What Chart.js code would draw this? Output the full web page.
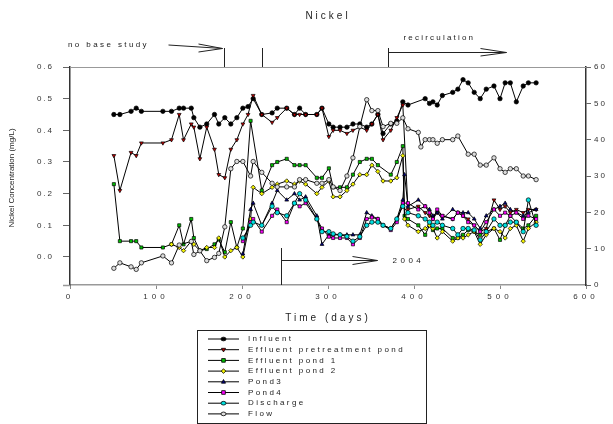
<!DOCTYPE html>
<html>
<head>
<meta charset="utf-8">
<script src="https://cdn.jsdelivr.net/npm/chart.js@4/dist/chart.umd.min.js"></script>
<style>
html, body { margin: 0; padding: 0; background: #fff; }
</style>
</head>
<body>
<canvas id="chart" width="613" height="424"></canvas>
<script>
Chart.defaults.font.family = '"Liberation Sans", Arial, sans-serif'
Chart.defaults.font.size = 8
Chart.defaults.color = '#333'

// sampling days (x values)
const days = [51, 58, 71, 77, 83, 108, 118, 127, 132, 141, 144, 151, 159, 168, 173, 180, 187, 194, 201, 207,
	210, 213, 223, 235, 241, 252, 261, 267, 274, 287, 293, 301, 306, 314, 322, 329, 337, 345, 351, 358,
	364, 373, 380, 387, 389, 393, 405, 408, 413, 418, 422, 427, 433, 445, 451, 457, 463, 470, 477, 484,
	493, 500, 506, 512, 519, 527, 533, 542]

// Ni concentrations (mg/L), null = not sampled
const influent = [.45, .45, .46, .47, .46, .46, .46, .47, .47, .47, .44, .41, .42, .45, .42, .44, .42, .44, .47, .475,
	null, .50, .45, .455, .47, .47, .45, .47, .45, .45, .47, .42, .41, .41, .41, .42, .42, .41, .42, .45,
	.39, .42, .43, .49, null, .48, null, null, .50, .485, .49, .48, .51, .52, .53, .56, .55, .52, .50, .53,
	.54, .50, .55, .55, .49, .54, .55, .55]
const effPretreat = [.32, .21, .33, .32, .36, .36, .37, .45, .37, .42, .41, .31, .41, .34, .26, .25, .34, .37, .42, .45,
	null, .51, .45, .425, .44, .47, .45, .45, .45, .45, .47, .38, .40, .40, .39, .40, .41, .40, .42, .45,
	.37, .40, .44, .48, null, .15, .16, null, .14, .13, .12, .14, .13, .12, .14, .13, .12, .10, .08, .09,
	.18, .15, .16, .14, .15, .14, .15, .15]
const effPond1 = [.23, .05, .05, .05, .03, .03, .04, .10, .04, .12, .06, .02, .025, .04, .055, .015, .11, .03, .09, null,
	.43, null, .21, .29, .30, .31, .29, .29, .29, .25, .25, .28, .22, .22, .22, .26, .30, .31, .31, .29,
	null, .26, .30, .35, .13, .12, .10, null, .07, .10, .085, .09, .09, .06, .06, .07, .085, .08, .07, .08,
	.09, .054, .10, .13, .11, .09, .10, .13]
const effPond2 = [null, null, null, null, null, null, .04, .03, .02, .05, .04, .02, .03, .03, .06, .0, .02, .03, .0, null,
	.12, .22, .20, .22, .23, .24, .23, .24, .23, .20, .22, .24, .19, .19, .21, .23, .26, .26, .29, .27,
	.24, .24, .25, .32, .12, .10, .08, null, .09, .10, .09, .06, .08, .05, .06, .06, .07, .08, .04, .07,
	.09, .08, .06, .09, .10, .05, .09, .11]
const pond3 = [null, null, null, null, null, null, null, null, null, null, null, null, null, null, null, null, null, null, .01, null,
	.15, .17, .10, .17, .21, .18, .20, .18, .19, .13, .04, .07, .07, .07, .07, .07, .07, .14, .13, .12,
	.10, .09, .12, .18, .26, .16, .18, null, .16, .15, .13, .14, .12, .15, .14, .14, .14, .12, .09, .13,
	.15, .16, .17, .15, .14, .13, .14, .15]
const pond4 = [null, null, null, null, null, null, null, null, null, null, null, null, null, null, null, null, null, null, .05, null,
	.11, .12, .08, .13, .15, .11, .17, .16, .17, .12, .09, .064, .06, .06, .06, .04, .06, .12, .125, .12,
	.10, .085, .11, .17, null, .17, .15, null, .16, .14, .12, .15, .13, .12, .14, .13, .11, .10, .08, .11,
	.15, .13, .14, .13, .14, .12, .13, .12]
const discharge = [null, null, null, null, null, null, null, null, null, null, null, null, null, null, null, null, null, null, .06, null,
	.10, .11, .10, .16, .14, .13, .17, .20, .18, .12, .08, .08, .073, .07, .065, .05, .064, .10, .11, .11,
	.10, .09, .12, .16, null, .14, .13, null, .12, .11, .10, .11, .10, .09, .07, .09, .09, .085, .054, .08,
	.12, .10, .10, .11, .11, .08, .18, .10]
// flow, right axis
const flow = [4.6, 6.1, 5, 4.3, 6.1, 8, 6.1, 11, null, 12, 8.4, 9.4, 6.7, 7.6, 8.7, 16, 32, 34, 34, null,
	30, 34, 31, 28, 27, 27, 27, 29, 29, 28, 28, 29, 27, 26, 30, 35, 43.6, 51, 48, 48,
	43.6, 44.5, 44.5, 46, null, 43, 42, 38, 40, 40, 40, 39, 40, 40, 41, null, 36, 36, 33, 33,
	35, 32, 31, 32, 32, 30, 30, 29]

const xTicks = [0, 100, 200, 300, 400, 500, 600]
const yTicks = [0, .1, .2, .3, .4, .5, .6]
const flowTicks = [0, 10, 20, 30, 40, 50, 60]

const series = [
	{label: "Influent", values: influent, style: 'circle', color: '#000000', axis: 'y'},
	{label: "Effluent pretreatment pond", values: effPretreat, style: 'triangle', rot: 180, color: '#c00000', axis: 'y'},
	{label: "Effluent pond 1", values: effPond1, style: 'rect', color: '#00c000', axis: 'y'},
	{label: "Effluent pond 2", values: effPond2, style: 'rectRot', color: '#f0f000', axis: 'y'},
	{label: "Pond3", values: pond3, style: 'triangle', color: '#000080', axis: 'y'},
	{label: "Pond4", values: pond4, style: 'rect', color: '#ff00ff', axis: 'y'},
	{label: "Discharge", values: discharge, style: 'circle', color: '#00e0e0', axis: 'y'},
	{label: "Flow", values: flow, style: 'circle', color: '#dcdcdc', axis: 'y1'},
]

const pts = vals => days.map((d, i) => ({x: d, y: vals[i]})).filter(p => p.y !== null)

function marker(ctx, style, rot, color, x, y, r) {
	ctx.save()
	ctx.fillStyle = color
	ctx.strokeStyle = '#000'
	ctx.lineWidth = 0.8
	ctx.translate(x, y)
	ctx.rotate((rot || 0) * Math.PI / 180)
	ctx.beginPath()
	if (style == 'circle') { ctx.ellipse(0, 0, r * 1.1, r * 0.8, 0, 0, 2 * Math.PI) }
	else if (style == 'rect') { ctx.rect(-r * .8, -r * .8, r * 1.6, r * 1.6) }
	else if (style == 'rectRot') { ctx.moveTo(0, -r); ctx.lineTo(r, 0); ctx.lineTo(0, r); ctx.lineTo(-r, 0); ctx.closePath() }
	else { ctx.moveTo(0, -r); ctx.lineTo(r * .9, r * .6); ctx.lineTo(-r * .9, r * .6); ctx.closePath() }
	ctx.fill()
	ctx.stroke()
	ctx.restore()
}

function text(ctx, s, x, y, font, spacing, align) {
	ctx.save()
	ctx.font = font
	ctx.letterSpacing = spacing + 'px'
	ctx.fillStyle = '#222'
	ctx.textAlign = align || 'left'
	ctx.textBaseline = 'middle'
	ctx.fillText(s, x, y)
	ctx.restore()
}

function line(ctx, x1, y1, x2, y2) {
	ctx.beginPath()
	ctx.moveTo(x1, y1)
	ctx.lineTo(x2, y2)
	ctx.stroke()
}

const decor = {
	id: 'decor',
	afterUpdate(chart) {
		const sx = chart.scales.x
		if (!sx._spaced) {
			const orig = sx.drawLabels
			sx.drawLabels = function(area) {
				this.ctx.save(); this.ctx.letterSpacing = '4px'; orig.call(this, area); this.ctx.restore()
			}
			sx._spaced = true
		}
	},
	beforeDraw(chart) { chart.ctx.letterSpacing = '2px' },
	afterDraw(chart) {
		const ctx = chart.ctx
		const ca = chart.chartArea
		const sx = chart.scales.x
		const F = '"Liberation Sans", Arial, sans-serif'
		ctx.save()
		ctx.letterSpacing = '0px'
		// frame: top line and the short run of the x axis left of the y axis
		ctx.strokeStyle = '#999'
		ctx.lineWidth = 1
		line(ctx, ca.left, ca.top + .5, ca.right, ca.top + .5)
		ctx.lineWidth = 1.5
		line(ctx, ca.left - 7, ca.bottom + .5, ca.left, ca.bottom + .5)
		ctx.lineWidth = 1

		text(ctx, "Nickel", (ca.left + ca.right) / 2, 16, '10px ' + F, 3, 'center')

		// study period markers above the plot
		ctx.strokeStyle = '#222'
		const xa = Math.round(sx.getPixelForValue(179)) + .5
		const xb = Math.round(sx.getPixelForValue(223)) + .5
		const xc = Math.round(sx.getPixelForValue(370)) + .5
		line(ctx, xa, ca.top - 19, xa, ca.top)
		line(ctx, xb, ca.top - 19, xb, ca.top)
		line(ctx, xc, ca.top - 19, xc, ca.top)
		text(ctx, "no base study", 68, 45, '8px ' + F, 2.4)
		line(ctx, xa - 56, 45, xa - 2, 48.5)
		line(ctx, xa - 26, 44, xa - 2, 48.5)
		line(ctx, xa - 26, 52, xa - 2, 48.5)
		text(ctx, "recirculation", xc + 15, 38, '8px ' + F, 2.2)
		line(ctx, xc, 52.5, xc + 118, 52.5)
		line(ctx, xc + 92, 48.5, xc + 118, 52.5)
		line(ctx, xc + 92, 56, xc + 118, 52.5)

		// 2004 marker inside the plot
		const xd = Math.round(sx.getPixelForValue(245)) + .5
		line(ctx, xd, 248, xd, ca.bottom)
		line(ctx, xd, 260.5, xd + 96, 260.5)
		line(ctx, xd + 71, 256.5, xd + 96, 260.5)
		line(ctx, xd + 71, 264.5, xd + 96, 260.5)
		text(ctx, "2004", xd + 111, 260.5, '8px ' + F, 3.5)

		// axis titles
		ctx.save()
		ctx.translate(12, (ca.top + ca.bottom) / 2 + 2)
		ctx.rotate(-Math.PI / 2)
		text(ctx, "Nickel Concentration (mg/L)", 0, 0, '8px ' + F, 0, 'center')
		ctx.restore()
		text(ctx, "Time (days)", (ca.left + ca.right) / 2, 318, '10px ' + F, 3, 'center')

		// legend
		ctx.strokeStyle = '#222'
		ctx.strokeRect(197.5, 330.5, 229, 93)
		series.forEach((s, i) => {
			const y = 339 + i * 10.7
			ctx.strokeStyle = '#000'
			line(ctx, 208, y, 239, y)
			marker(ctx, s.style, s.rot, s.color, 223.5, y, 2.3)
			text(ctx, s.label, 248, y, '8px ' + F, 2.4)
		})
		ctx.restore()
	}
}

const ctx = document.getElementById("chart")
let chart = new Chart(ctx, {
	type: 'line',
	data: {
		datasets: series.map(s => ({
			label: s.label,
			data: pts(s.values),
			yAxisID: s.axis,
			borderColor: '#000',
			borderWidth: 1,
			backgroundColor: s.color,
			pointBackgroundColor: s.color,
			pointBorderColor: '#000',
			pointBorderWidth: 0.7,
			pointStyle: s.style,
			pointRotation: s.rot || 0,
			pointRadius: 2.2,
			tension: 0,
			fill: false,
			spanGaps: true,
		})).reverse()
	},
	options: {
		responsive: false,
		animation: false,
		devicePixelRatio: 1,
		layout: { padding: { left: 22, right: 0, top: 67, bottom: 119 } },
		plugins: {
			legend: { display: false },
			title: { display: false },
			tooltip: { enabled: false },
		},
		scales: {
			x: {
				type: 'linear', position: 'bottom', min: 0, max: 600,
				afterBuildTicks: a => { a.ticks = xTicks.map(v => ({value: v})) },
				afterFit: a => { a.height = 20 },
				ticks: { color: '#333', padding: 3, maxRotation: 0, font: { size: 8 } },
				grid: { drawOnChartArea: false, drawTicks: true, tickLength: 4, color: '#888' },
				border: { color: '#999', width: 1.5 },
			},
			y: {
				type: 'linear', position: 'left', min: -0.0885, max: 0.6,
				afterBuildTicks: a => { a.ticks = yTicks.map(v => ({value: v})) },
				afterFit: a => { a.width = 48 },
				ticks: { color: '#333', padding: 9, callback: v => v.toFixed(1), font: { size: 8 } },
				grid: { drawOnChartArea: false, drawTicks: true, tickLength: 7, color: '#666' },
				border: { color: '#333', width: 1.5 },
			},
			y1: {
				type: 'linear', position: 'right', min: 0, max: 60,
				afterBuildTicks: a => { a.ticks = flowTicks.map(v => ({value: v})) },
				afterFit: a => { a.width = 27 },
				ticks: { color: '#333', padding: 3, font: { size: 8 } },
				grid: { drawOnChartArea: false, drawTicks: true, tickLength: 5, color: '#666' },
				border: { color: '#333', width: 1.5 },
			},
		}
	},
	plugins: [decor]
})
</script>
</body>
</html>
